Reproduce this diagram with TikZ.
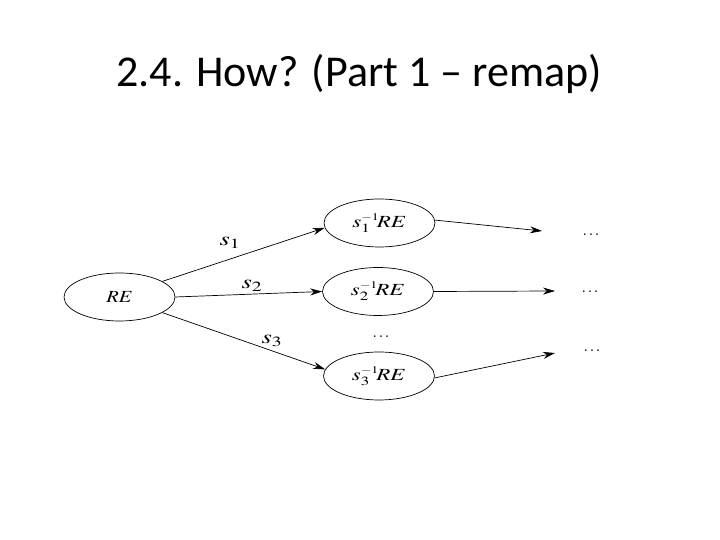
\documentclass[tikz,border=0pt]{standalone}
\usepackage{mathptmx}
\usepackage{graphicx}
\usepackage{fontspec}
\newfontfamily\titlefont{Carlito}
\usetikzlibrary{shapes.geometric,arrows.meta}
\newcommand{\wide}[2]{\scalebox{#1}[1]{#2}}
\begin{document}
\begin{tikzpicture}[x=1pt,y=1pt,
  st/.style={draw,ellipse,minimum width=111pt,minimum height=48pt,inner sep=0pt,line width=0.7pt,font=\fontsize{17}{20}\selectfont},
  arr/.style={-{Stealth[length=12pt,width=7pt]},line width=0.7pt},
  lbl/.style={font=\fontsize{19}{22}\selectfont,inner sep=0pt},
  dotsty/.style={font=\fontsize{16}{18}\selectfont,inner sep=0pt}]
\useasboundingbox (0,0) rectangle (720,540);
\node[font=\titlefont\fontsize{44}{50}\selectfont,anchor=base] (title) at (359,453) {2.4. How? (Part 1 – remap)};
\node[st] (re) at (119.5,243) {\wide{1.2}{$RE$}};
\node[st] (s1) at (379.5,317) {\wide{1.35}{$s^{\scriptscriptstyle -1}_{1}\!RE$}};
\node[st] (s2) at (378,248.5) {\wide{1.35}{$s^{\scriptscriptstyle -1}_{2}\!RE$}};
\node[st] (s3) at (379,164) {\wide{1.35}{$s^{\scriptscriptstyle -1}_{3}\!RE$}};
\node[dotsty] (md) at (381,203) {$\ldots$};
\node[dotsty] (d1) at (591,305) {$\ldots$};
\node[dotsty] (d2) at (590,248) {$\ldots$};
\node[dotsty] (d3) at (592,189) {$\ldots$};
\coordinate (e1) at (542,309);
\coordinate (e2) at (555,249);
\coordinate (e3) at (555,187);
\draw[arr] (re.20) -- (s1.185);
\draw[arr] (re.0) -- (s2.180);
\draw[arr] (re.-20) -- (s3.173);
\draw[arr] (s1.3) -- (e1);
\draw[arr] (s2.0) -- (e2);
\draw[arr] (s3.-2) -- (e3);
\node[lbl] (l1) at (230,297) {\wide{1.4}{$s_{1}$}};
\node[lbl] (l2) at (252,254) {\wide{1.4}{$s_{2}$}};
\node[lbl] (l3) at (272,199) {\wide{1.4}{$s_{3}$}};
\end{tikzpicture}
\end{document}
